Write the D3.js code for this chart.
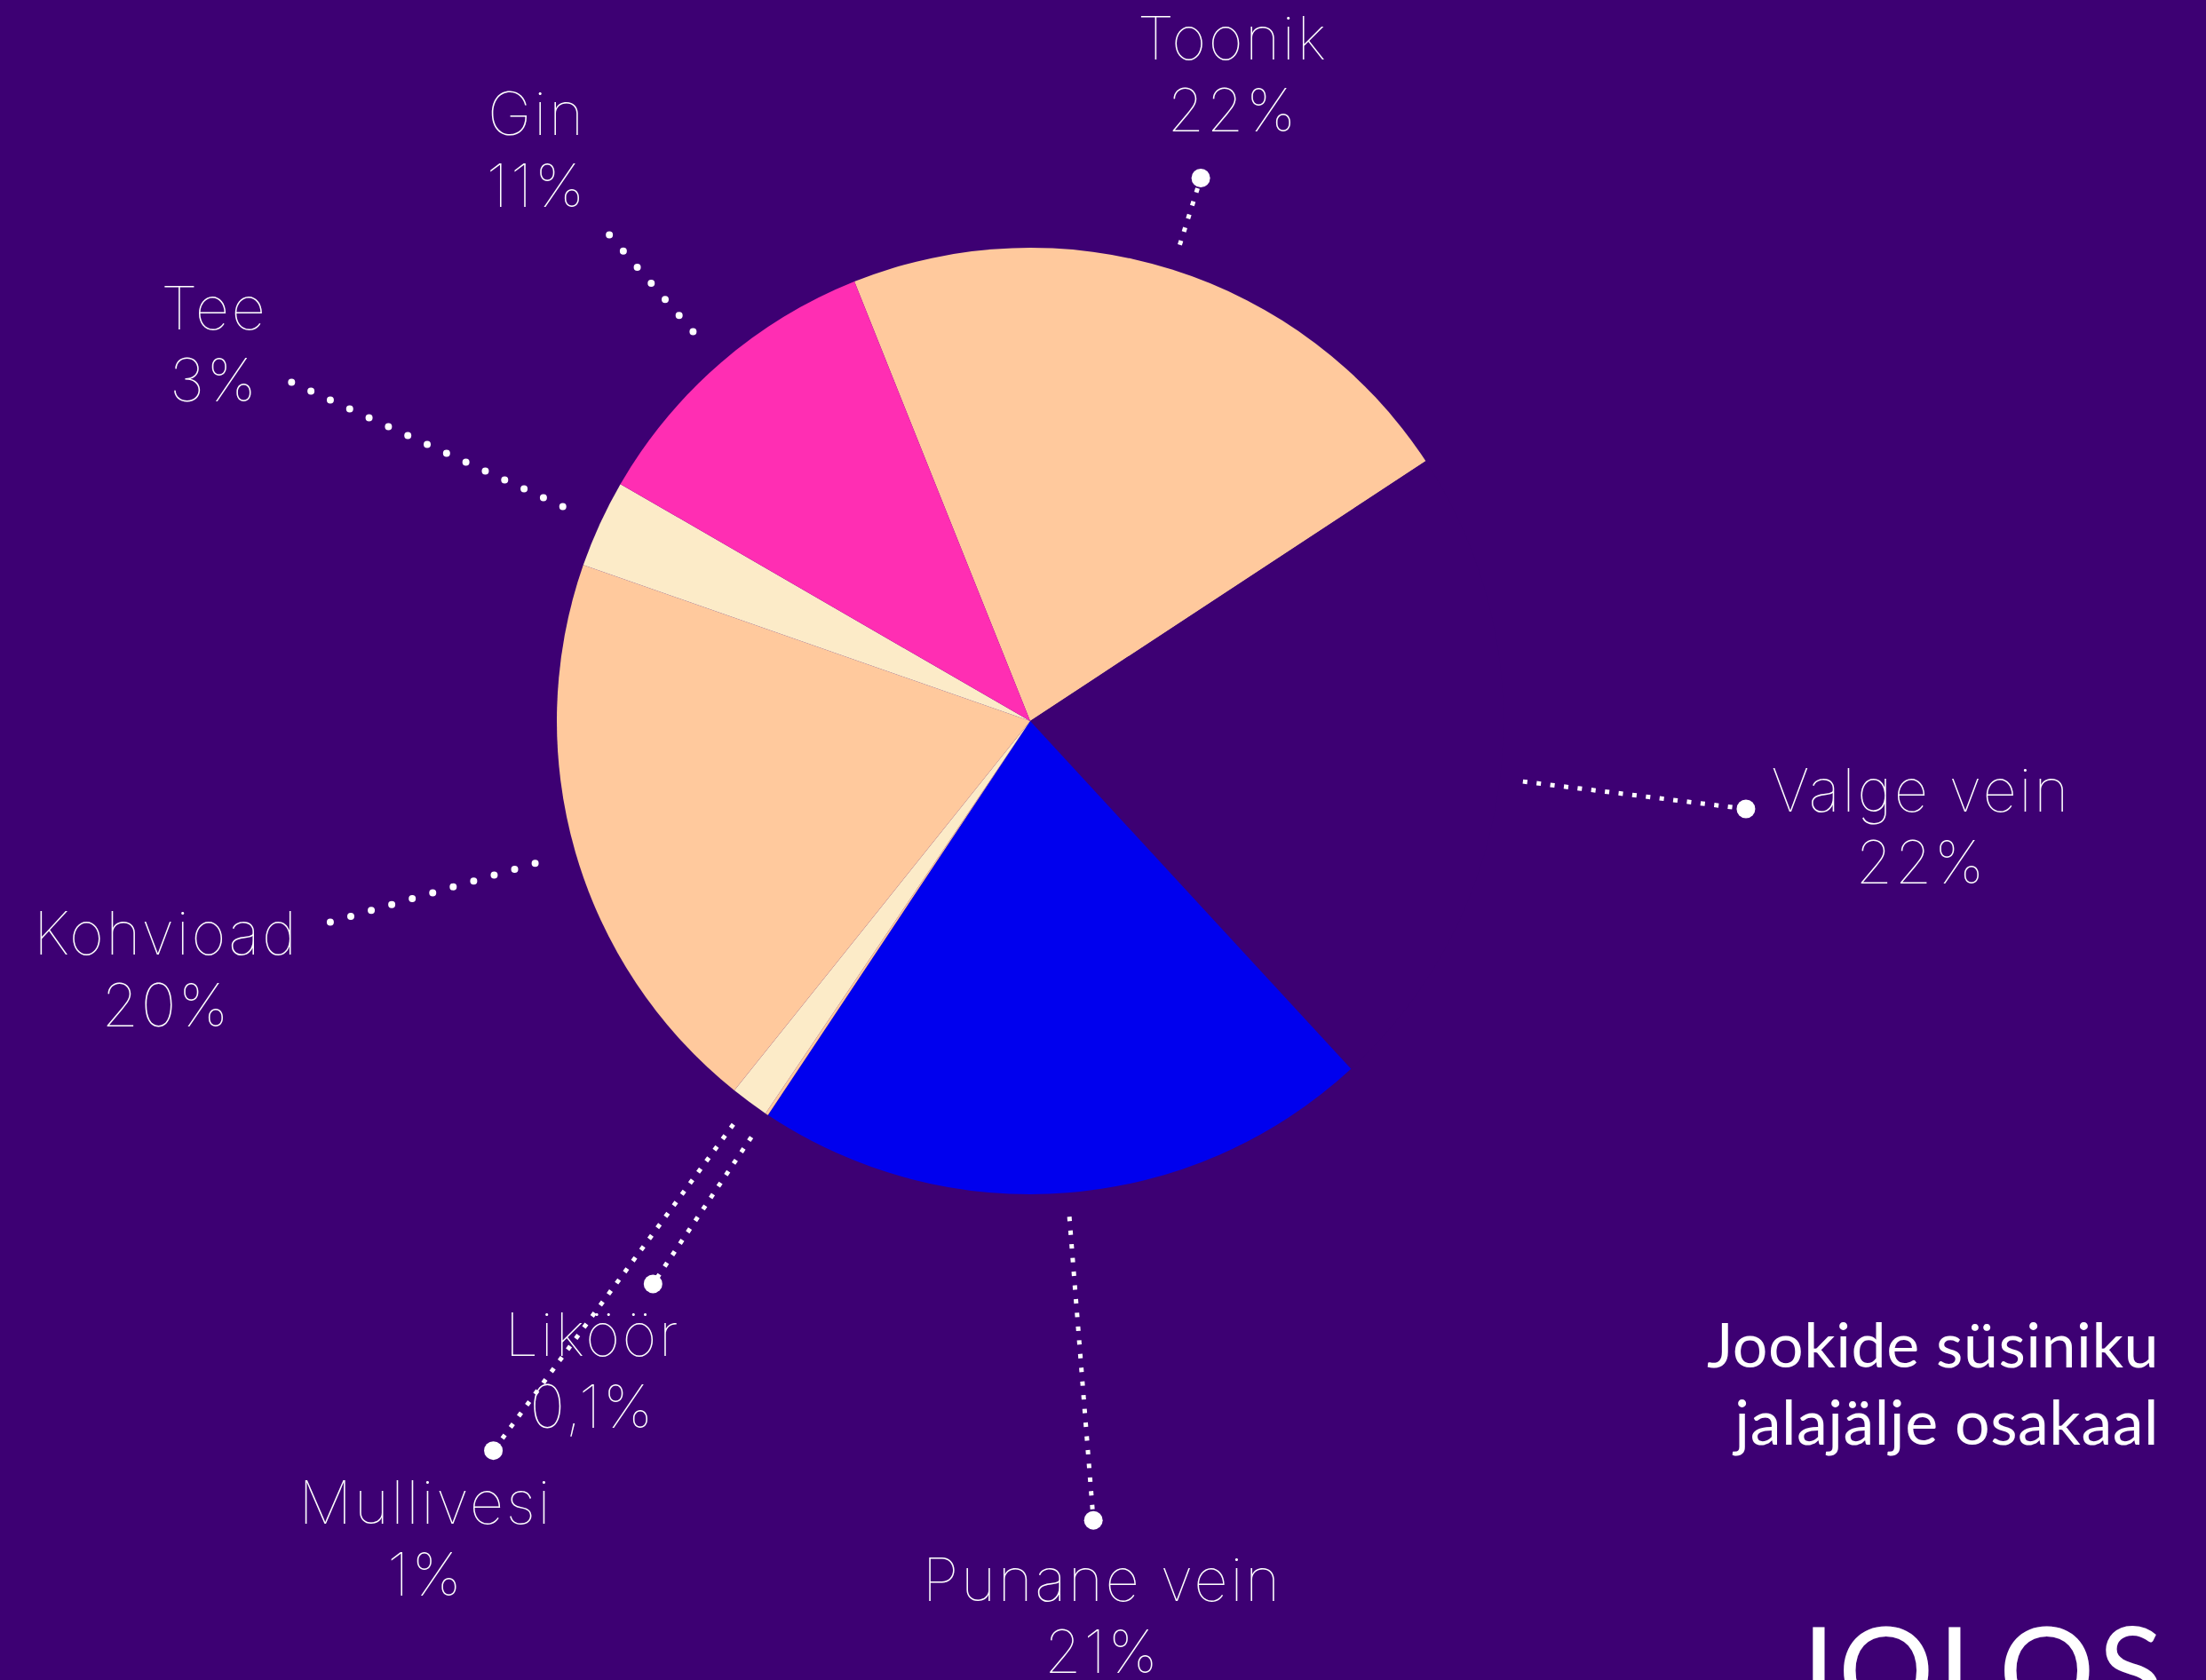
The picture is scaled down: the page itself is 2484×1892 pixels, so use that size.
<!DOCTYPE html>
<html>
<head>
<meta charset="utf-8">
<script src="https://cdn.jsdelivr.net/npm/d3@7"></script>
<style>
  html, body { margin: 0; padding: 0; background: #3D0073; }
  svg { display: block; }
</style>
</head>
<body>
<svg id="chart" width="2484" height="1892"></svg>
<script>
// ---- data ----
const categories  = ["Toonik", "Valge vein", "Punane vein", "Liköör", "Mullivesi", "Kohvioad", "Tee", "Gin"];
const shares      = [21.8, 22.4, 21.2, 0.1, 1.3, 19.6, 3.0, 10.6];
const shareLabels = ["22%", "22%", "21%", "0,1%", "1%", "20%", "3%", "11%"];
const titleLines  = ["Jookide süsiniku", "jalajälje osakaal"];
const logoText    = "JOLOS";

// ---- styling / layout (kept apart from the data) ----
const BG = "#3D0073";
const sliceColors = ["#FFC99D", BG, "#0000EE", "#FFC99D", "#FCEBC8", "#FFC99D", "#FCEBC8", "#FF2EB3"];
const leaderLayout = [
  { r0: 562, r1: 641,  dot: "square", end: true,  lx: 1387, ly: 67   },
  { r0: 559, r1: 812,  dot: "square", end: true,  lx: 2162, ly: 914  },
  { r0: 560, r1: 903,  dot: "square", end: true,  lx: 1240, ly: 1803 },
  { r0: 564, r1: 763,  dot: "square", end: true,  lx: 666,  ly: 1527 },
  { r0: 564, r1: 1020, dot: "square", end: true,  lx: 478,  ly: 1716 },
  { r0: 580, r1: 825,  dot: "round",  end: false, lx: 186,  ly: 1075 },
  { r0: 579, r1: 923,  dot: "round",  end: false, lx: 240,  ly: 371  },
  { r0: 580, r1: 733,  dot: "round",  end: false, lx: 603,  ly: 152  }
];

const W = 2484, H = 1892;
const cx = 1160, cy = 812, R = 533;
const startDeg = 338.2;

const svg = d3.select("#chart");
svg.append("rect").attr("width", W).attr("height", H).attr("fill", BG);

const a0 = startDeg * Math.PI / 180;
const pie = d3.pie().sort(null).value(d => d).startAngle(a0).endAngle(a0 + 2 * Math.PI);
const arcs = pie(shares);
const arc = d3.arc().innerRadius(0).outerRadius(R);

const g = svg.append("g").attr("transform", `translate(${cx},${cy})`);
g.selectAll("path.slice")
  .data(arcs)
  .join("path")
  .attr("class", "slice")
  .attr("d", arc)
  .attr("fill", (d, i) => sliceColors[i]);

const polar = (a, r) => [r * Math.sin(a), -r * Math.cos(a)];

// leader lines
arcs.forEach((d, i) => {
  const L = leaderLayout[i];
  const a = (d.startAngle + d.endAngle) / 2;
  const p0 = polar(a, L.r0), p1 = polar(a, L.r1);
  const line = g.append("line")
    .attr("x1", p0[0]).attr("y1", p0[1])
    .attr("x2", p1[0]).attr("y2", p1[1])
    .attr("stroke", "#fff");
  if (L.dot === "square") {
    line.attr("stroke-width", 5).attr("stroke-dasharray", "5 10.5").attr("stroke-linecap", "butt");
  } else {
    line.attr("stroke-width", 8).attr("stroke-dasharray", "0 24").attr("stroke-linecap", "round");
  }
  if (L.end) {
    g.append("circle").attr("cx", p1[0]).attr("cy", p1[1]).attr("r", 10.5).attr("fill", "#fff");
  }
});

// labels
const labelFont = "Inter, Roboto, 'Open Sans', sans-serif";
categories.forEach((c, i) => {
  const L = leaderLayout[i];
  const t = svg.append("text")
    .attr("text-anchor", "middle")
    .attr("fill", "#fff")
    .style("font-family", labelFont)
    .style("font-weight", 100)
    .style("font-size", "67px")
    .style("letter-spacing", "2.5px");
  t.append("tspan").attr("x", L.lx + 1.25).attr("y", L.ly).text(c);
  t.append("tspan").attr("x", L.lx + 1.25).attr("y", L.ly + 81).text(shareLabels[i]);
});

// title
const title = svg.append("text")
  .attr("text-anchor", "end")
  .attr("fill", "#fff")
  .style("font-family", "Lato, 'Open Sans', sans-serif")
  .style("font-weight", 400)
  .style("font-size", "70px")
  .style("letter-spacing", "0.5px");
titleLines.forEach((s, i) => {
  title.append("tspan").attr("x", 2431).attr("y", 1540 + i * 87).text(s);
});

// logo (cut at the bottom edge)
svg.append("text")
  .attr("x", 2440).attr("y", 1930)
  .attr("text-anchor", "end")
  .attr("fill", "#fff")
  .style("font-family", "Lato, 'Open Sans', sans-serif")
  .style("font-weight", 400)
  .style("font-size", "135px")
  .style("letter-spacing", "4px")
  .text(logoText);
</script>
</body>
</html>
